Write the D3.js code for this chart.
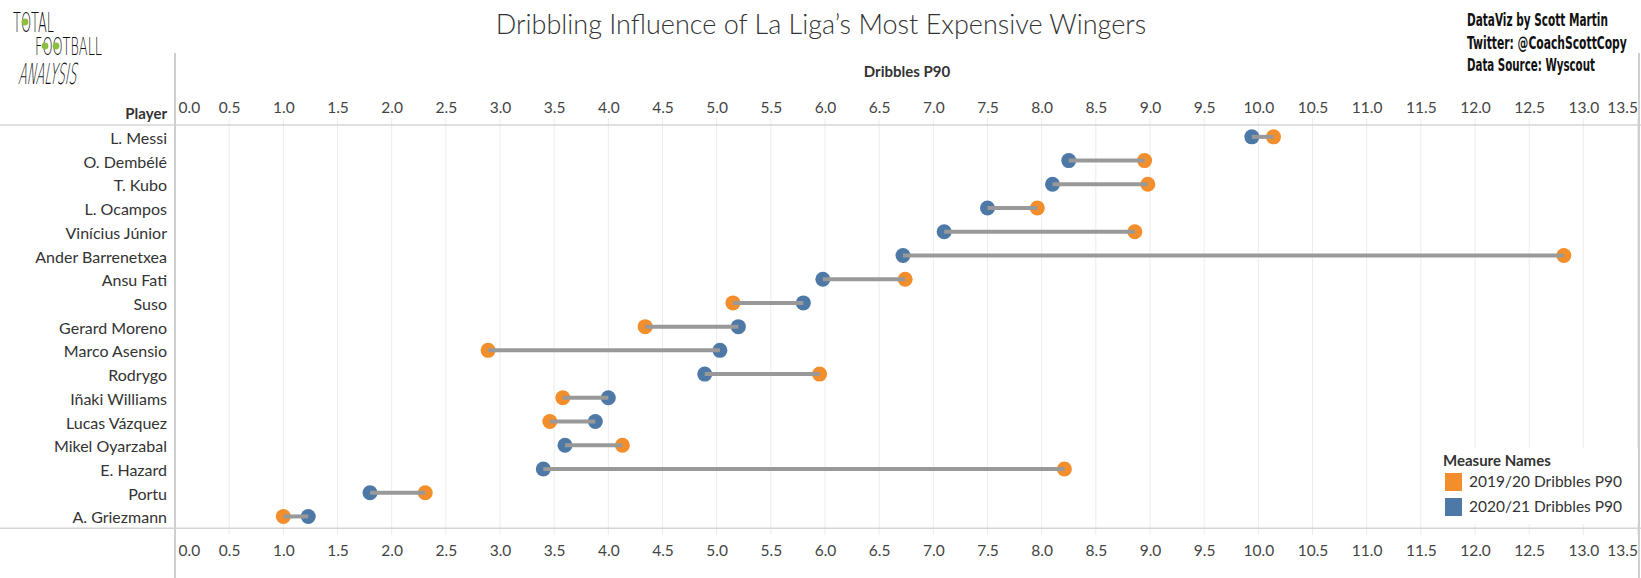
<!DOCTYPE html>
<html>
<head>
<meta charset="utf-8">
<script src="https://cdn.jsdelivr.net/npm/d3@7"></script>
<style>
  html, body { margin: 0; padding: 0; background: #fff; }
  svg { display: block; }
</style>
</head>
<body>
<svg id="chart" width="1641" height="578"></svg>
<script>
// ---- data ----
const players = ["L. Messi","O. Dembélé","T. Kubo","L. Ocampos","Vinícius Júnior","Ander Barrenetxea","Ansu Fati","Suso","Gerard Moreno","Marco Asensio","Rodrygo","Iñaki Williams","Lucas Vázquez","Mikel Oyarzabal","E. Hazard","Portu","A. Griezmann"];
const dribbles1920 = [10.14, 8.95, 8.98, 7.96, 8.86, 12.82, 6.74, 5.15, 4.34, 2.89, 5.95, 3.58, 3.46, 4.13, 8.21, 2.31, 1.00];
const dribbles2021 = [9.94, 8.25, 8.10, 7.50, 7.10, 6.72, 5.98, 5.80, 5.20, 5.03, 4.89, 4.00, 3.88, 3.60, 3.40, 1.80, 1.23];
const tickValues = [0,0.5,1,1.5,2,2.5,3,3.5,4,4.5,5,5.5,6,6.5,7,7.5,8,8.5,9,9.5,10,10.5,11,11.5,12,12.5,13,13.5];
const seriesNames = ["2019/20 Dribbles P90","2020/21 Dribbles P90"];
const seriesColors = ["#F28E2B","#4E79A7"];
const creditLines = ["DataViz by Scott Martin","Twitter: @CoachScottCopy","Data Source: Wyscout"];

(function(){
const rows = players.map((p,i)=>({player:p, a:dribbles1920[i], b:dribbles2021[i]}));

const svg = d3.select("#chart");
const W = 1641, H = 578;
const pL = 175, pR = 1639, pT = 125, pB = 528.3;

const x = d3.scaleLinear().domain([0, 13.5]).range([pL, 1637.5]);
const y = d3.scaleBand().domain(players).range([pT, pB]).padding(0);

const textCol = "#333";
const font = "Lato, 'Open Sans', sans-serif";

// gridlines
svg.append("g").selectAll("line").data(tickValues).join("line")
  .attr("x1", d=>x(d)).attr("x2", d=>x(d))
  .attr("y1", pT-7).attr("y2", pB+7)
  .attr("stroke", "#ececec").attr("stroke-width", 1);

// legend background to mask gridlines
const legX = 1438, legY = 448;
svg.append("rect").attr("x", legX).attr("y", legY).attr("width", pR-legX-1).attr("height", 76).attr("fill","#fff");

// frame lines
svg.append("line").attr("x1",0).attr("x2",W).attr("y1",pT).attr("y2",pT).attr("stroke","#d4d4d4").attr("stroke-width",1.5);
svg.append("line").attr("x1",0).attr("x2",W).attr("y1",pB).attr("y2",pB).attr("stroke","#d4d4d4").attr("stroke-width",1.5);
svg.append("line").attr("x1",pL).attr("x2",pL).attr("y1",53).attr("y2",H).attr("stroke","#cfcfcf").attr("stroke-width",2);
svg.append("line").attr("x1",pR).attr("x2",pR).attr("y1",53).attr("y2",H).attr("stroke","#cfcfcf").attr("stroke-width",2);

// axes (labels only)
function styleAxis(g) {
  g.select(".domain").remove();
  g.selectAll(".tick line").remove();
  g.selectAll(".tick text")
    .attr("font-family", font).attr("font-size", 15.5).attr("fill", "#444");
}
const fmt = d3.format(".1f");
const axTop = svg.append("g").attr("transform", `translate(0,${pT-12})`)
  .call(d3.axisTop(x).tickValues(tickValues).tickFormat(fmt).tickSize(0).tickPadding(0));
styleAxis(axTop);
const axBot = svg.append("g").attr("transform", `translate(0,${pB+16})`)
  .call(d3.axisBottom(x).tickValues(tickValues).tickFormat(fmt).tickSize(0).tickPadding(0));
styleAxis(axBot);
axBot.selectAll(".tick text").attr("dy", "0.75em");
[axTop, axBot].forEach(g=>{
  g.selectAll(".tick").filter(d=>d===0).select("text").attr("text-anchor","start").attr("x", 3);
  g.selectAll(".tick").filter(d=>d===13.5).select("text").attr("text-anchor","end").attr("x", 0);
});

// player labels
svg.append("g").selectAll("text").data(players).join("text")
  .attr("x", 167).attr("y", d=>y(d)+y.bandwidth()/2).attr("dy","0.44em")
  .attr("text-anchor","end").attr("font-family", font).attr("font-size", 16)
  .attr("fill", textCol).text(d=>d);

svg.append("text").attr("x",167).attr("y",119).attr("text-anchor","end")
  .attr("font-family", font).attr("font-size",15).attr("font-weight",700).attr("fill","#333").text("Player");

svg.append("text").attr("x",(pL+pR)/2).attr("y",77).attr("text-anchor","middle")
  .attr("font-family", font).attr("font-size",15).attr("font-weight",700).attr("fill","#333").text("Dribbles P90");

// title
svg.append("text").attr("x",821).attr("y",34).attr("text-anchor","middle")
  .attr("font-family","Lato, 'Open Sans', sans-serif").attr("font-weight",300).attr("font-size",27)
  .attr("fill","#333").text("Dribbling Influence of La Liga’s Most Expensive Wingers");

// dots
const cy = d=>y(d.player)+y.bandwidth()/2;
const dots = svg.append("g");
dots.selectAll("circle.a").data(rows).join("circle").attr("class","a")
  .attr("cx", d=>x(d.a)).attr("cy", cy).attr("r", 7.5).attr("fill", seriesColors[0]);
dots.selectAll("circle.b").data(rows).join("circle").attr("class","b")
  .attr("cx", d=>x(d.b)).attr("cy", cy).attr("r", 7.5).attr("fill", seriesColors[1]);

// connecting lines (on top)
svg.append("g").selectAll("line").data(rows).join("line")
  .attr("x1", d=>x(d.a)).attr("x2", d=>x(d.b))
  .attr("y1", cy).attr("y2", cy)
  .attr("stroke", "#999").attr("stroke-width", 4);

// legend
const leg = svg.append("g");
leg.append("text").attr("x",1443).attr("y",466).attr("font-family",font).attr("font-size",15)
  .attr("font-weight",700).attr("fill","#333").text("Measure Names");
seriesNames.forEach((n,i)=>{
  leg.append("rect").attr("x",1445).attr("y",473+i*25).attr("width",17).attr("height",18).attr("fill",seriesColors[i]);
  leg.append("text").attr("x",1469).attr("y",482+i*25).attr("dy","0.35em").attr("font-family",font)
    .attr("font-size",15.5).attr("fill","#333").text(n);
});

// credits: condensed bold, scaled horizontally to fit
const creditWidths = [141, 160, 128];
const cr = svg.append("g");
creditLines.forEach((t,i)=>{
  const tx = cr.append("text").attr("x",0).attr("y",0)
    .attr("font-family","'Liberation Sans Narrow','DejaVu Sans Condensed',sans-serif")
    .attr("font-weight",700).attr("font-size",17).attr("fill","#111").text(t);
  const w = tx.node().getComputedTextLength();
  const s = creditWidths[i] / w;
  tx.attr("transform", `translate(1467,${26+i*22.5}) scale(${s},1)`);
});

// logo (thin condensed lettering)
const logo = svg.append("g").attr("fill","#111")
  .attr("font-family","'DejaVu Sans', sans-serif").attr("font-weight",200);
function fitText(txt, tx, ty, w, size, skew) {
  const t = logo.append("text").attr("font-size", size).text(txt);
  const s = w / t.node().getComputedTextLength();
  t.attr("transform", `translate(${tx},${ty}) skewX(${skew}) scale(${s},1)`);
}
fitText("TOTAL", 13, 32, 41, 27, 0);
fitText("FOOTBALL", 35, 55, 67, 25, 0);
fitText("ANALYSIS", 18, 84, 58, 29, -10);
logo.selectAll("circle").data([[25,22],[45,46],[56,46]]).join("circle")
  .attr("cx",d=>d[0]).attr("cy",d=>d[1]).attr("r",3.4).attr("fill","#8cbf3f");
})();
</script>
</body>
</html>
